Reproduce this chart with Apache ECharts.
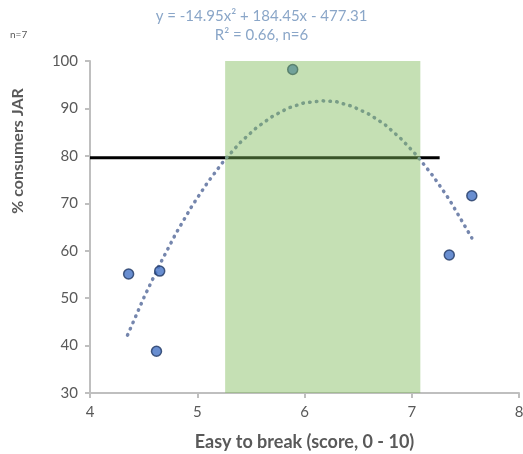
<!DOCTYPE html>
<html><head><meta charset="utf-8">
<script src="https://cdn.jsdelivr.net/npm/echarts@6/dist/echarts.min.js"></script>
<style>html,body{margin:0;padding:0;background:#fff}#c{width:523px;height:454px}</style>
</head><body><div id="c"></div>
<script>
const pointsX = [4.36, 4.65, 4.62, 5.89, 7.35, 7.56];
const pointsY = [55.1, 55.7, 38.8, 98.2, 59.1, 71.6];
const trendX = [4.35, 4.5, 4.65, 4.8, 4.95, 5.1, 5.25, 5.4, 5.55, 5.7, 5.85, 6.0, 6.17, 6.3, 6.45, 6.6, 6.75, 6.9, 7.05, 7.2, 7.35, 7.56];
const trendY = [42.2, 50.0, 57.1, 63.6, 69.4, 74.5, 79.0, 82.8, 85.9, 88.3, 90.1, 91.2, 91.6, 91.4, 90.4, 88.8, 86.6, 83.6, 80.0, 75.7, 70.8, 62.7];
const jarX = [4, 7.26];
const jarY = [79.6, 79.6];
const bandX = [5.26, 7.08];
const bandY = [30, 101];
const xTicks = [4, 5, 6, 7, 8];
const yTicks = [30, 40, 50, 60, 70, 80, 90, 100];
const titleLines = ['y = -14.95x² + 184.45x - 477.31', 'R² = 0.66, n=6'];
const noteText = 'n=7';
const xTitle = 'Easy to break (score, 0 - 10)';
const yTitle = '% consumers JAR';

const font = 'Lato, "Open Sans", sans-serif';
const chart = echarts.init(document.getElementById('c'), null, {renderer: 'canvas'});
chart.setOption({
  animation: false,
  grid: {left: 90, right: 4, top: 61, bottom: 61, outerBoundsMode: 'none', containLabel: false},
  graphic: [
    {type: 'text', left: 'center', top: 7, style: {text: titleLines.join('\n'), fill: '#8aa6c8', font: '15px ' + font, textAlign: 'center', lineHeight: 19}},
    {type: 'text', left: 10, top: 30, style: {text: noteText, fill: '#595959', font: '10px ' + font}},
    {type: 'text', x: 18, y: 151, rotation: Math.PI / 2, style: {text: yTitle, fill: '#595959', font: 'bold 16px ' + font, textAlign: 'center', textVerticalAlign: 'middle'}}
  ],
  xAxis: {
    type: 'value', min: xTicks[0], max: xTicks[xTicks.length - 1], interval: 1,
    name: xTitle, nameLocation: 'middle', nameGap: 40,
    nameTextStyle: {color: '#595959', fontSize: 18, fontWeight: 'bold', fontFamily: font},
    axisLine: {lineStyle: {color: '#bfbfbf', width: 2}},
    axisTick: {show: true, length: 5, lineStyle: {color: '#bfbfbf', width: 2}},
    axisLabel: {color: '#595959', fontSize: 15, fontFamily: font, margin: 12},
    splitLine: {show: false}
  },
  yAxis: {
    type: 'value', min: yTicks[0], max: yTicks[yTicks.length - 1], interval: 10,
    axisLine: {show: true, lineStyle: {color: '#bfbfbf', width: 2}},
    axisTick: {show: true, length: 5, lineStyle: {color: '#bfbfbf', width: 2}},
    axisLabel: {color: '#595959', fontSize: 15, fontFamily: font, margin: 12},
    splitLine: {show: false}
  },
  series: [
    {
      type: 'line', data: jarX.map((x, i) => [x, jarY[i]]), symbol: 'none',
      lineStyle: {color: '#000', width: 3}, z: 3
    },
    {
      type: 'line', data: trendX.map((x, i) => [x, trendY[i]]), symbol: 'none', smooth: false,
      lineStyle: {color: '#7586ad', width: 3.5, type: [0.5, 6.3], cap: 'round', join: 'round'}, z: 4
    },
    {
      type: 'scatter', data: pointsX.map((x, i) => [x, pointsY[i]]), symbolSize: 10,
      itemStyle: {color: '#4472c4', borderColor: '#203864', borderWidth: 1.5}, z: 5
    },
    {
      type: 'line', data: [], silent: true, clip: false, z: 10,
      markArea: {silent: true, z: 10, itemStyle: {color: 'rgba(126,186,88,0.45)'},
        data: [[{xAxis: bandX[0], yAxis: bandY[0]}, {xAxis: bandX[1], yAxis: bandY[1]}]]}
    }
  ]
});
</script></body></html>
